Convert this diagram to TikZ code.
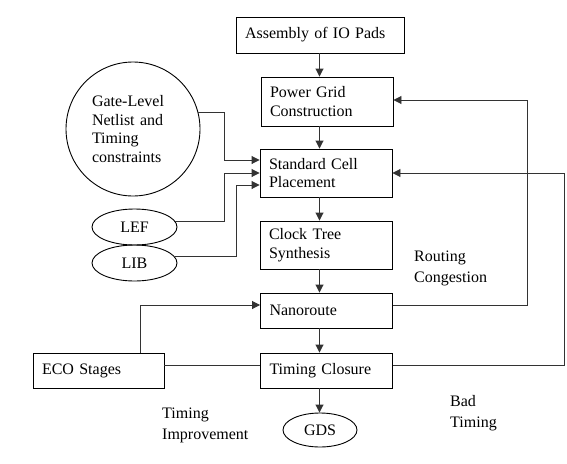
\documentclass[tikz,border=0pt]{standalone}
\usepackage{fontspec}
\setmainfont{Liberation Serif}
\usetikzlibrary{arrows.meta,shapes.geometric}
\newcommand\fsbox{\fontsize{16}{18.5}\selectfont}
\newcommand\fslbl{\fontsize{16}{20.5}\selectfont}
\begin{document}
\begin{tikzpicture}[x=1pt,y=-1pt,
  box/.style={draw, line width=0.9pt, rectangle, align=left, inner xsep=9pt, inner ysep=0pt, font=\fsbox},
  oval/.style={draw, line width=0.9pt, ellipse, inner sep=0pt, font=\fsbox},
  lbl/.style={anchor=west, align=left, inner sep=0pt, font=\fslbl},
  ln/.style={draw=black!80, line width=0.9pt},
  arr/.style={ln, -{Triangle[length=8pt,width=8pt]}}]
\useasboundingbox (0,0) rectangle (567,463);
\coordinate (axis) at (319.5,0);
% process boxes
\node[box, text width=150pt, minimum height=36pt] (io) at (320,35) {Assembly of IO Pads};
\node[box, text width=114pt, minimum height=49pt] (pg) at (327,101.5) {Power Grid\\Construction};
\node[box, text width=114pt, minimum height=48pt] (sc) at (326,173) {Standard Cell\\Placement};
\node[box, text width=114pt, minimum height=48pt] (ct) at (326,245) {Clock Tree\\Synthesis};
\node[box, text width=114pt, minimum height=35pt] (nano) at (326.5,310.5) {Nanoroute};
\node[box, text width=114pt, minimum height=35pt] (tc) at (326.5,370.5) {Timing Closure};
\node[box, text width=113pt, minimum height=35pt] (eco) at (98.5,370.5) {ECO Stages};
% inputs
\node[draw, line width=0.9pt, circle, minimum size=134pt, inner sep=0pt, text width=82pt, align=left, font=\fsbox] (gate) at (133,129) {Gate-Level\\Netlist and\\Timing\\constraints};
\node[oval, minimum width=85pt, minimum height=36pt] (lef) at (134.5,227) {LEF};
\node[oval, minimum width=85pt, minimum height=36pt] (lib) at (134.5,263) {LIB};
\node[oval, minimum width=74pt, minimum height=34pt] (gds) at (320,430) {GDS};
% main flow
\draw[arr] (io.south -| axis) -- (pg.north -| axis);
\draw[arr] (pg.south -| axis) -- (sc.north -| axis);
\draw[arr] (sc.south -| axis) -- (ct.north -| axis);
\draw[arr] (ct.south -| axis) -- (nano.north -| axis);
\draw[arr] (nano.south -| axis) -- (tc.north -| axis);
\draw[arr] (tc.south -| axis) -- (gds.north -| axis);
% inputs to placement
\draw[arr] (gate.14) -| (224,160) -- (sc.west |- 0,160);
\draw[arr] (lef.8) -| (224,173) -- (sc.west |- 0,173);
\draw[arr] (lib.9) -| (236,185) -- (sc.west |- 0,185);
% feedback loops
\draw[arr] (nano.east |- 0,305) -- (527,305) -- (527,100) -- (pg.east |- 0,100);
\draw[arr] (tc.east |- 0,365) -- (564,365) -- (564,173) -- (sc.east |- 0,173);
\draw[arr] (eco.north -| 140,0) -- (140,305) -- (nano.west |- 0,305);
\draw[ln] (eco.east |- 0,365) -- (tc.west |- 0,365);
% labels
\node[lbl] (rc) at (414,268.5) {Routing\\Congestion};
\node[lbl] (bt) at (450,413) {Bad\\Timing};
\node[lbl] (ti) at (162,425.5) {Timing\\Improvement};
\end{tikzpicture}
\end{document}
